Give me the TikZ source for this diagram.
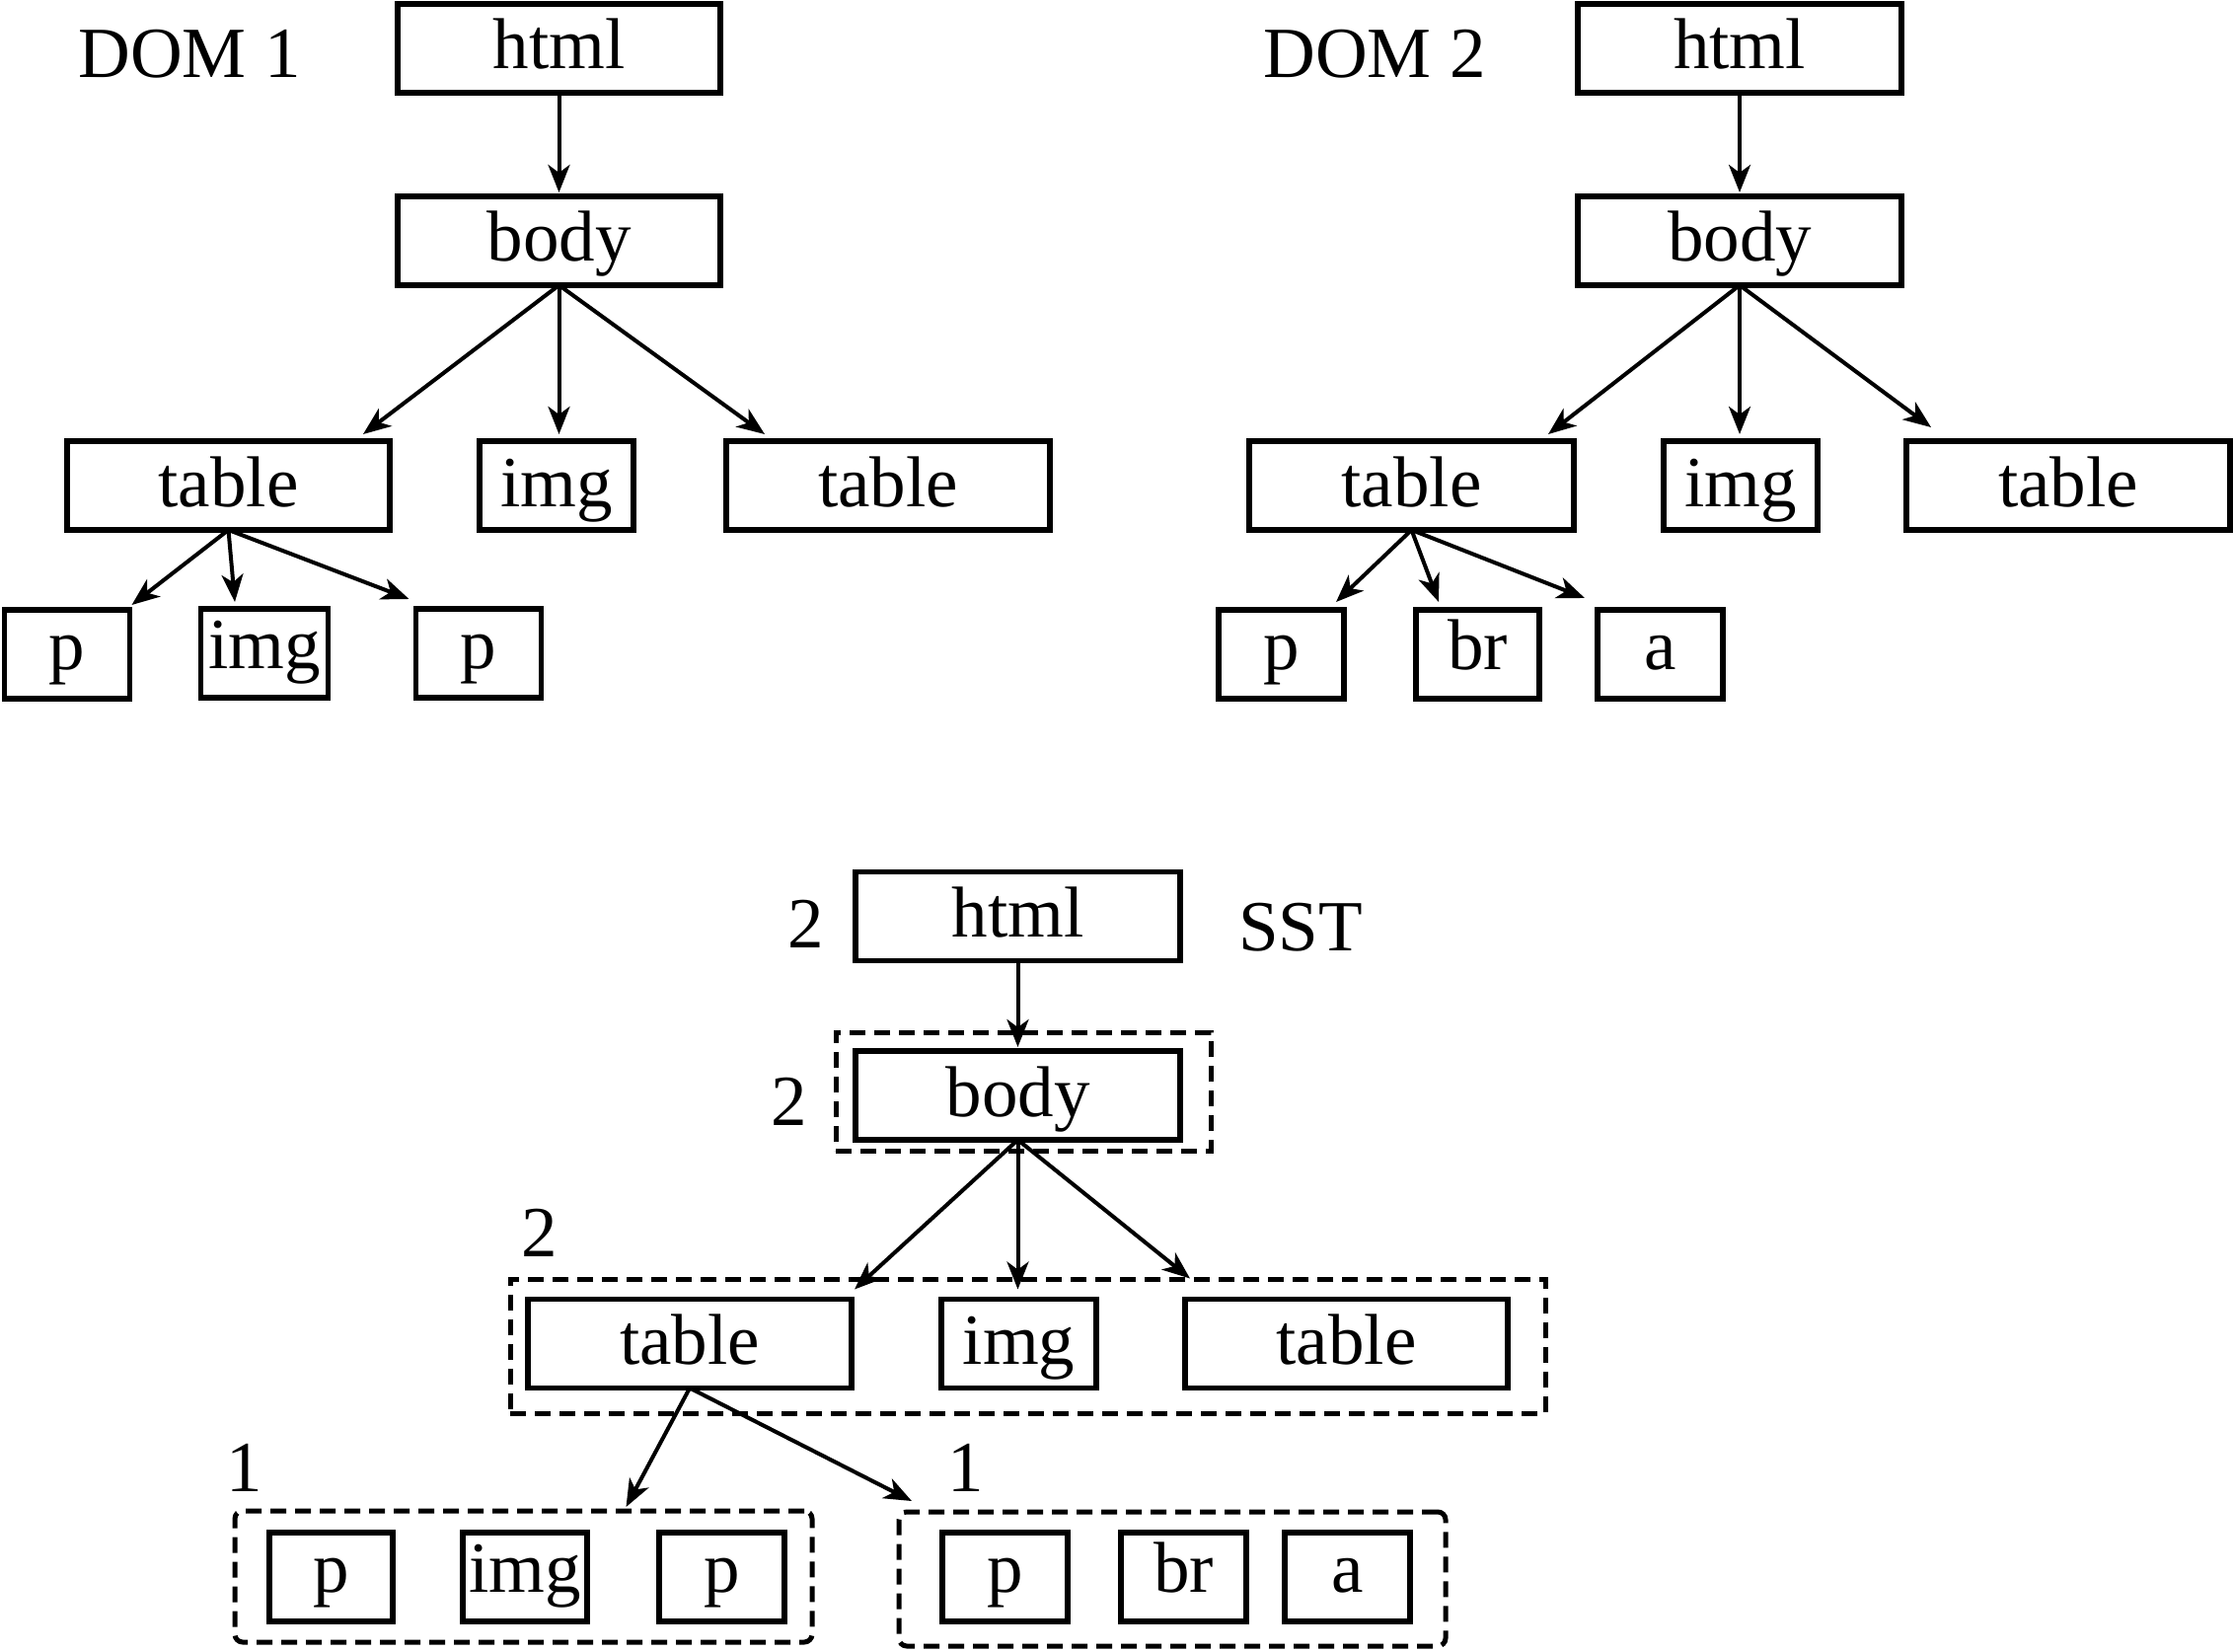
\documentclass[tikz,border=0pt]{standalone}
\usepackage{fontspec}
\setmainfont{Liberation Serif}
\usetikzlibrary{arrows.meta,calc}
\begin{document}
\begin{tikzpicture}[x=0.5pt,y=-0.5pt,
  box/.style={draw, line width=2.7pt, inner sep=0pt, outer sep=0pt, minimum height=45pt,
    font=\fontsize{36.5}{42}\selectfont, text height=28pt, text depth=7pt},
  sbox/.style={box, text height=25pt, text depth=10pt},
  w/.style={minimum width=#1*0.5pt},
  lbl/.style={font=\fontsize{36.5}{42}\selectfont, inner sep=0pt, anchor=base},
  arr/.style={line width=2pt, -{Stealth[length=14pt,width=11pt,inset=4pt]}},
  grp/.style={draw, line width=2.5pt, dash pattern=on 8pt off 4.5pt, inner sep=0pt, outer sep=0pt},
]
\useasboundingbox (0,0) rectangle (2263,1674);

% ---------- DOM 1 ----------
\node[lbl] (dom1) at (192,79) {DOM 1};
\node[box,w=327] (h1) at (566.5,49) {html};
\node[box,w=327] (b1) at (566.5,244) {body};
\node[box,w=327] (t1a) at (231.5,492) {table};
\node[box,w=156] (i1) at (564,492) {img};
\node[box,w=328] (t1b) at (900,492) {table};
\node[sbox,w=127] (p1a) at (68,663) {p};
\node[sbox,w=129] (i1b) at (268,662) {img};
\node[sbox,w=127] (p1b) at (485,662) {p};

\draw[arr] (h1.south) -- ($(b1.north)+(0,-4)$);
\draw[arr] (b1.south) -- ($(t1a.north east)+(-27,-7)$);
\draw[arr] (b1.south) -- ($(b1.south|-i1.north)+(0,-7)$);
\draw[arr] (b1.south) -- ($(t1b.north west)+(39,-7)$);
\draw[arr] (t1a.south) -- ($(p1a.north east)+(2,-5)$);
\draw[arr] (t1a.south) -- ($(i1b.north)+(-30,-7)$);
\draw[arr] (t1a.south) -- ($(p1b.north west)+(-7,-10)$);

% ---------- DOM 2 ----------
\node[lbl] (dom2) at (1393,79) {DOM 2};
\node[box,w=328] (h2) at (1763,49) {html};
\node[box,w=328] (b2) at (1763,244) {body};
\node[box,w=329] (t2a) at (1430.5,492) {table};
\node[box,w=156] (i2) at (1764,492) {img};
\node[box,w=328] (t2b) at (2096,492) {table};
\node[sbox,w=127] (p2) at (1298.5,663) {p};
\node[sbox,w=125] (br2) at (1497.5,663) {br};
\node[sbox,w=127] (a2) at (1682.5,663) {a};

\draw[arr] (h2.south) -- ($(b2.north)+(0,-4)$);
\draw[arr] (b2.south) -- ($(t2a.north east)+(-26,-7)$);
\draw[arr] (b2.south) -- ($(b2.south|-i2.north)+(0,-7)$);
\draw[arr] (b2.south) -- ($(t2b.north west)+(25,-14)$);
\draw[arr] (t2a.south) -- ($(p2.north east)+(-8,-8)$);
\draw[arr] (t2a.south) -- ($(br2.north west)+(23,-8)$);
\draw[arr] (t2a.south) -- ($(a2.north west)+(-13,-12)$);

% ---------- SST ----------
\node[grp,minimum width=190pt,minimum height=60pt] (gb) at (1037,1106) {};
\node[grp,minimum width=524.5pt,minimum height=68pt] (gt) at (1041.5,1364) {};
\node[grp,rounded corners=4pt,minimum width=292.5pt,minimum height=66.5pt] (g1) at (530.5,1597.5) {};
\node[grp,rounded corners=4pt,minimum width=277pt,minimum height=68pt] (g2) at (1188,1600) {};

\node[lbl] (sst) at (1318,963) {SST};
\node[lbl] (nh) at (817,960) {2};
\node[lbl] (nb) at (800,1140) {2};
\node[lbl] (nt) at (547,1273) {2};
\node[lbl] (n1) at (248,1511) {1};
\node[lbl] (n2) at (979,1511) {1};

\node[box,w=329] (h3) at (1031.5,928.5) {html};
\node[box,w=329] (b3) at (1031.5,1110) {body};
\node[box,w=328] (t3a) at (699,1361.5) {table};
\node[box,w=157] (i3) at (1032.5,1361.5) {img};
\node[box,w=327] (t3b) at (1364.5,1361.5) {table};
\node[sbox,w=125] (p3a) at (335.5,1598) {p};
\node[sbox,w=126] (i3b) at (532,1598) {img};
\node[sbox,w=127] (p3b) at (731.5,1598) {p};
\node[sbox,w=127] (p3c) at (1018.5,1598) {p};
\node[sbox,w=127] (br3) at (1199.5,1598) {br};
\node[sbox,w=127] (a3) at (1365.5,1598) {a};

\draw[arr] (h3.south) -- ($(b3.north)+(0,-4)$);
\draw[arr] (b3.south) -- ($(t3a.north east)+(3,-10)$);
\draw[arr] (b3.south) -- ($(b3.south|-i3.north)+(0,-10)$);
\draw[arr] (b3.south) -- ($(t3b.north west)+(5,-21)$);
\draw[arr] (t3a.south) -- ($(g1.north)+(104,-4)$);
\draw[arr] (t3a.south) -- ($(g2.north west)+(13,-11)$);
\end{tikzpicture}
\end{document}
